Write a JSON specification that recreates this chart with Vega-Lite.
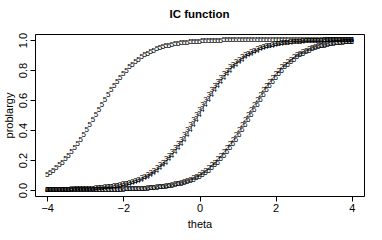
{
"$schema": "https://vega.github.io/schema/vega-lite/v6.json",
"width": 329, "height": 162,
"autosize": "none",
"padding": {"left": 35, "top": 34, "right": 18, "bottom": 44},
"background": "white",
"title": {"text": "IC function", "font": "Liberation Sans", "fontSize": 11.5, "fontWeight": "bold", "color": "black", "anchor": "middle", "offset": 12},
"data": {"values": [
{"t":-4,"2":0,"3":0.001,"4":0.001,"5":0.102,"6":0},
{"t":-3.92,"2":0,"3":0.001,"4":0.001,"5":0.115,"6":0},
{"t":-3.84,"2":0,"3":0.002,"4":0.001,"5":0.130,"6":0},
{"t":-3.76,"2":0,"3":0.002,"4":0.002,"5":0.146,"6":0},
{"t":-3.68,"2":0,"3":0.002,"4":0.002,"5":0.164,"6":0},
{"t":-3.6,"2":0,"3":0.003,"4":0.002,"5":0.183,"6":0},
{"t":-3.52,"2":0,"3":0.003,"4":0.003,"5":0.204,"6":0},
{"t":-3.44,"2":0,"3":0.003,"4":0.003,"5":0.227,"6":0},
{"t":-3.36,"2":0,"3":0.004,"4":0.003,"5":0.252,"6":0},
{"t":-3.28,"2":0,"3":0.004,"4":0.004,"5":0.278,"6":0},
{"t":-3.2,"2":0,"3":0.005,"4":0.004,"5":0.307,"6":0},
{"t":-3.12,"2":0.001,"3":0.006,"4":0.005,"5":0.336,"6":0},
{"t":-3.04,"2":0.001,"3":0.006,"4":0.006,"5":0.367,"6":0.001},
{"t":-2.96,"2":0.001,"3":0.007,"4":0.006,"5":0.399,"6":0.001},
{"t":-2.88,"2":0.001,"3":0.008,"4":0.007,"5":0.432,"6":0.001},
{"t":-2.8,"2":0.001,"3":0.010,"4":0.008,"5":0.466,"6":0.001},
{"t":-2.72,"2":0.001,"3":0.011,"4":0.010,"5":0.5,"6":0.001},
{"t":-2.64,"2":0.001,"3":0.013,"4":0.011,"5":0.534,"6":0.001},
{"t":-2.56,"2":0.001,"3":0.015,"4":0.013,"5":0.568,"6":0.001},
{"t":-2.48,"2":0.002,"3":0.017,"4":0.015,"5":0.601,"6":0.001},
{"t":-2.4,"2":0.002,"3":0.019,"4":0.017,"5":0.633,"6":0.002},
{"t":-2.32,"2":0.002,"3":0.022,"4":0.019,"5":0.664,"6":0.002},
{"t":-2.24,"2":0.003,"3":0.025,"4":0.022,"5":0.693,"6":0.002},
{"t":-2.16,"2":0.003,"3":0.028,"4":0.025,"5":0.722,"6":0.003},
{"t":-2.08,"2":0.003,"3":0.032,"4":0.028,"5":0.748,"6":0.003},
{"t":-2,"2":0.004,"3":0.037,"4":0.032,"5":0.773,"6":0.003},
{"t":-1.92,"2":0.004,"3":0.042,"4":0.037,"5":0.796,"6":0.004},
{"t":-1.84,"2":0.005,"3":0.048,"4":0.042,"5":0.817,"6":0.004},
{"t":-1.76,"2":0.006,"3":0.054,"4":0.048,"5":0.836,"6":0.005},
{"t":-1.68,"2":0.006,"3":0.062,"4":0.054,"5":0.854,"6":0.006},
{"t":-1.6,"2":0.007,"3":0.070,"4":0.062,"5":0.870,"6":0.006},
{"t":-1.52,"2":0.008,"3":0.080,"4":0.070,"5":0.885,"6":0.007},
{"t":-1.44,"2":0.010,"3":0.090,"4":0.080,"5":0.898,"6":0.008},
{"t":-1.36,"2":0.011,"3":0.102,"4":0.090,"5":0.910,"6":0.010},
{"t":-1.28,"2":0.013,"3":0.115,"4":0.102,"5":0.920,"6":0.011},
{"t":-1.2,"2":0.015,"3":0.130,"4":0.115,"5":0.930,"6":0.013},
{"t":-1.12,"2":0.017,"3":0.146,"4":0.130,"5":0.938,"6":0.015},
{"t":-1.04,"2":0.019,"3":0.164,"4":0.146,"5":0.946,"6":0.017},
{"t":-0.96,"2":0.022,"3":0.183,"4":0.164,"5":0.952,"6":0.019},
{"t":-0.88,"2":0.025,"3":0.204,"4":0.183,"5":0.958,"6":0.022},
{"t":-0.8,"2":0.028,"3":0.227,"4":0.204,"5":0.963,"6":0.025},
{"t":-0.72,"2":0.032,"3":0.252,"4":0.227,"5":0.968,"6":0.028},
{"t":-0.64,"2":0.037,"3":0.278,"4":0.252,"5":0.972,"6":0.032},
{"t":-0.56,"2":0.042,"3":0.307,"4":0.278,"5":0.975,"6":0.037},
{"t":-0.48,"2":0.048,"3":0.336,"4":0.307,"5":0.978,"6":0.042},
{"t":-0.4,"2":0.054,"3":0.367,"4":0.336,"5":0.981,"6":0.048},
{"t":-0.32,"2":0.062,"3":0.399,"4":0.367,"5":0.983,"6":0.054},
{"t":-0.24,"2":0.070,"3":0.432,"4":0.399,"5":0.985,"6":0.062},
{"t":-0.16,"2":0.080,"3":0.466,"4":0.432,"5":0.987,"6":0.070},
{"t":-0.08,"2":0.090,"3":0.5,"4":0.466,"5":0.989,"6":0.080},
{"t":0,"2":0.102,"3":0.534,"4":0.5,"5":0.990,"6":0.090},
{"t":0.08,"2":0.115,"3":0.568,"4":0.534,"5":0.992,"6":0.102},
{"t":0.16,"2":0.130,"3":0.601,"4":0.568,"5":0.993,"6":0.115},
{"t":0.24,"2":0.146,"3":0.633,"4":0.601,"5":0.994,"6":0.130},
{"t":0.32,"2":0.164,"3":0.664,"4":0.633,"5":0.994,"6":0.146},
{"t":0.4,"2":0.183,"3":0.693,"4":0.664,"5":0.995,"6":0.164},
{"t":0.48,"2":0.204,"3":0.722,"4":0.693,"5":0.996,"6":0.183},
{"t":0.56,"2":0.227,"3":0.748,"4":0.722,"5":0.996,"6":0.204},
{"t":0.64,"2":0.252,"3":0.773,"4":0.748,"5":0.997,"6":0.227},
{"t":0.72,"2":0.278,"3":0.796,"4":0.773,"5":0.997,"6":0.252},
{"t":0.8,"2":0.307,"3":0.817,"4":0.796,"5":0.997,"6":0.278},
{"t":0.88,"2":0.336,"3":0.836,"4":0.817,"5":0.998,"6":0.307},
{"t":0.96,"2":0.367,"3":0.854,"4":0.836,"5":0.998,"6":0.336},
{"t":1.04,"2":0.399,"3":0.870,"4":0.854,"5":0.998,"6":0.367},
{"t":1.12,"2":0.432,"3":0.885,"4":0.870,"5":0.999,"6":0.399},
{"t":1.2,"2":0.466,"3":0.898,"4":0.885,"5":0.999,"6":0.432},
{"t":1.28,"2":0.5,"3":0.910,"4":0.898,"5":0.999,"6":0.466},
{"t":1.36,"2":0.534,"3":0.920,"4":0.910,"5":0.999,"6":0.5},
{"t":1.44,"2":0.568,"3":0.930,"4":0.920,"5":0.999,"6":0.534},
{"t":1.52,"2":0.601,"3":0.938,"4":0.930,"5":0.999,"6":0.568},
{"t":1.6,"2":0.633,"3":0.946,"4":0.938,"5":0.999,"6":0.601},
{"t":1.68,"2":0.664,"3":0.952,"4":0.946,"5":0.999,"6":0.633},
{"t":1.76,"2":0.693,"3":0.958,"4":0.952,"5":1,"6":0.664},
{"t":1.84,"2":0.722,"3":0.963,"4":0.958,"5":1,"6":0.693},
{"t":1.92,"2":0.748,"3":0.968,"4":0.963,"5":1,"6":0.722},
{"t":2,"2":0.773,"3":0.972,"4":0.968,"5":1,"6":0.748},
{"t":2.08,"2":0.796,"3":0.975,"4":0.972,"5":1,"6":0.773},
{"t":2.16,"2":0.817,"3":0.978,"4":0.975,"5":1,"6":0.796},
{"t":2.24,"2":0.836,"3":0.981,"4":0.978,"5":1,"6":0.817},
{"t":2.32,"2":0.854,"3":0.983,"4":0.981,"5":1,"6":0.836},
{"t":2.4,"2":0.870,"3":0.985,"4":0.983,"5":1,"6":0.854},
{"t":2.48,"2":0.885,"3":0.987,"4":0.985,"5":1,"6":0.870},
{"t":2.56,"2":0.898,"3":0.989,"4":0.987,"5":1,"6":0.885},
{"t":2.64,"2":0.910,"3":0.990,"4":0.989,"5":1,"6":0.898},
{"t":2.72,"2":0.920,"3":0.992,"4":0.990,"5":1,"6":0.910},
{"t":2.8,"2":0.930,"3":0.993,"4":0.992,"5":1,"6":0.920},
{"t":2.88,"2":0.938,"3":0.994,"4":0.993,"5":1,"6":0.930},
{"t":2.96,"2":0.946,"3":0.994,"4":0.994,"5":1,"6":0.938},
{"t":3.04,"2":0.952,"3":0.995,"4":0.994,"5":1,"6":0.946},
{"t":3.12,"2":0.958,"3":0.996,"4":0.995,"5":1,"6":0.952},
{"t":3.2,"2":0.963,"3":0.996,"4":0.996,"5":1,"6":0.958},
{"t":3.28,"2":0.968,"3":0.997,"4":0.996,"5":1,"6":0.963},
{"t":3.36,"2":0.972,"3":0.997,"4":0.997,"5":1,"6":0.968},
{"t":3.44,"2":0.975,"3":0.997,"4":0.997,"5":1,"6":0.972},
{"t":3.52,"2":0.978,"3":0.998,"4":0.997,"5":1,"6":0.975},
{"t":3.6,"2":0.981,"3":0.998,"4":0.998,"5":1,"6":0.978},
{"t":3.68,"2":0.983,"3":0.998,"4":0.998,"5":1,"6":0.981},
{"t":3.76,"2":0.985,"3":0.999,"4":0.998,"5":1,"6":0.983},
{"t":3.84,"2":0.987,"3":0.999,"4":0.999,"5":1,"6":0.985},
{"t":3.92,"2":0.989,"3":0.999,"4":0.999,"5":1,"6":0.987},
{"t":4,"2":0.990,"3":0.999,"4":0.999,"5":1,"6":0.989}
]},
"transform": [{"fold": ["2", "3", "4", "5", "6"], "as": ["item", "p"]}],
"mark": {"type": "text", "font": "Liberation Sans", "fontSize": 8, "fill": "black", "color": "black", "opacity": 0.99, "align": "center", "baseline": "middle"},
"encoding": {
  "x": {"field": "t", "type": "quantitative", "scale": {"domain": [-4.32, 4.32], "nice": false, "zero": false},
        "axis": {"values": [-4, -2, 0, 2, 4], "title": "theta", "labelPadding": 1, "titlePadding": 5, "format": "d"}},
  "y": {"field": "p", "type": "quantitative", "scale": {"domain": [-0.04, 1.04], "nice": false, "zero": false},
        "axis": {"values": [0, 0.2, 0.4, 0.6, 0.8, 1], "format": ".1f", "title": "problargy", "labelAngle": -90, "labelAlign": "center", "labelBaseline": "bottom", "labelPadding": 2, "titlePadding": 3}},
  "text": {"field": "item", "type": "nominal"}
},
"config": {
  "view": {"stroke": "black", "strokeWidth": 1},
  "axis": {"grid": false, "domain": false, "ticks": true, "tickColor": "black", "tickSize": 5, "tickWidth": 1,
           "labelColor": "black", "labelFont": "Liberation Sans", "labelFontSize": 11,
           "titleColor": "black", "titleFont": "Liberation Sans", "titleFontSize": 11, "titleFontWeight": "normal"}
}
}
